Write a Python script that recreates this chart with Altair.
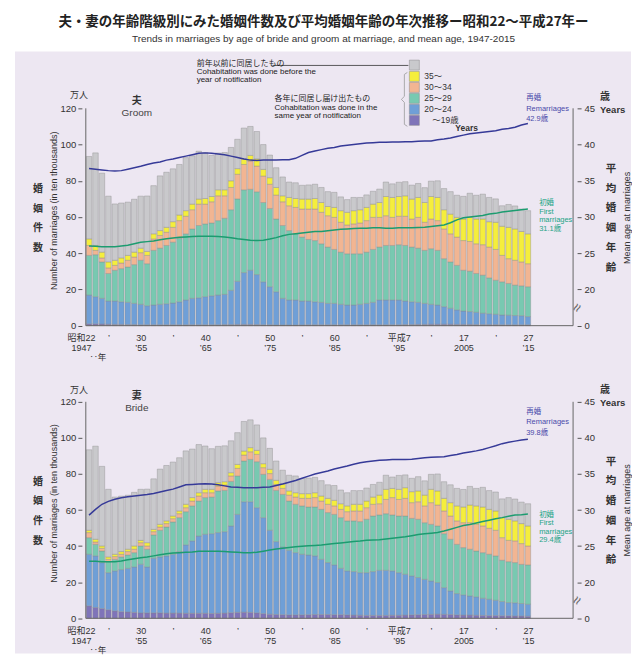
import altair as alt
import pandas as pd

FONT = "Liberation Sans, Noto Sans CJK JP, sans-serif"
JP = "Noto Sans CJK JP, sans-serif"

years = list(range(1947, 2016))

# total marriages (10 thousands) - same for groom and bride
marriages_total = [93.4, 95.4, 84.2, 71.5, 67.2, 67.7, 68.2, 69.8, 71.5, 71.6,
                   77.3, 82.7, 84.7, 86.6, 89.0, 92.8, 93.8, 96.3, 95.5, 94.0,
                   95.3, 95.6, 98.4, 102.9, 109.1, 110.0, 107.2, 100.0, 94.2, 87.2,
                   82.1, 79.3, 78.9, 77.5, 77.7, 78.1, 76.3, 74.0, 73.6, 71.1,
                   69.6, 70.8, 70.8, 72.2, 74.2, 75.4, 79.3, 78.3, 79.2, 79.5,
                   77.6, 78.5, 76.2, 79.8, 80.0, 75.7, 74.0, 72.0, 71.4, 73.1,
                   72.0, 72.6, 70.8, 70.0, 66.2, 66.9, 66.1, 64.4, 63.5]

# ---- Groom: upper edge of each cumulative band (same-year cohabitation) ----
groom_top_u19 = [1.0, 1.0, 0.9, 0.8, 0.7, 0.7, 0.6, 0.6, 0.5, 0.5,
                 0.5, 0.5, 0.5, 0.5, 0.5, 0.5, 0.5, 0.5, 0.5, 0.5,
                 0.5, 0.6, 0.6, 0.7, 0.7, 0.7, 0.6, 0.5, 0.5, 0.4,
                 0.4, 0.4, 0.4, 0.4, 0.5, 0.5, 0.5, 0.5, 0.5, 0.5,
                 0.5, 0.5, 0.5, 0.5, 0.5, 0.5, 0.5, 0.5, 0.5, 0.6,
                 0.6, 0.7, 0.7, 0.8, 0.8, 0.8, 0.8, 0.7, 0.7, 0.7,
                 0.6, 0.6, 0.6, 0.6, 0.5, 0.5, 0.5, 0.5, 0.5]
groom_top_20_24 = [16.9, 16.0, 15.1, 13.6, 13.6, 13.2, 12.9, 12.3, 11.8, 11.0,
                   11.4, 11.8, 12.1, 12.5, 13.2, 14.2, 15.1, 15.4, 16.0, 16.5,
                   16.9, 17.3, 19.5, 24.5, 29.3, 30.6, 28.2, 24.2, 21.5, 18.7,
                   15.1, 14.2, 14.2, 13.6, 13.6, 13.2, 12.9, 12.3, 12.3, 11.8,
                   11.4, 11.4, 11.8, 12.3, 12.9, 14.2, 14.2, 14.2, 14.2, 13.6,
                   13.2, 12.9, 12.3, 11.8, 11.4, 10.5, 9.6, 8.7, 8.1, 7.8,
                   7.4, 6.9, 6.6, 6.3, 5.9, 5.8, 5.6, 5.5, 5.0]
groom_top_25_29 = [38.8, 39.2, 35.2, 28.8, 30.6, 31.5, 32.4, 33.7, 36.1, 34.2,
                   41.6, 42.8, 44.3, 46.1, 48.3, 50.7, 53.4, 55.3, 56.2, 56.7,
                   58.0, 59.3, 64.0, 70.0, 75.0, 75.3, 73.9, 68.0, 64.7, 58.9,
                   55.3, 52.5, 50.7, 48.9, 47.6, 47.0, 45.2, 43.4, 42.1, 40.6,
                   39.7, 39.7, 39.7, 40.6, 42.1, 43.4, 44.3, 44.3, 44.7, 44.3,
                   43.4, 42.8, 41.6, 42.5, 41.6, 37.0, 35.2, 33.3, 30.6, 30.1,
                   28.8, 27.9, 26.4, 25.1, 24.2, 23.3, 22.4, 22.0, 21.5]
groom_top_30_34 = [44.3, 41.6, 37.4, 31.9, 33.3, 34.6, 36.1, 37.9, 40.3, 38.8,
                   47.9, 49.8, 51.6, 54.3, 58.0, 60.4, 64.0, 67.1, 67.1, 68.4,
                   71.7, 71.7, 76.3, 83.6, 89.0, 90.9, 88.1, 82.6, 78.1, 72.1,
                   68.4, 66.2, 65.3, 64.4, 64.4, 64.4, 62.6, 60.7, 59.8, 57.1,
                   55.6, 56.2, 56.7, 58.0, 59.8, 59.8, 60.7, 59.8, 60.4, 60.4,
                   58.9, 59.8, 57.1, 58.9, 58.0, 53.4, 50.7, 48.9, 47.0, 46.5,
                   45.2, 44.7, 43.4, 42.1, 38.8, 37.0, 36.1, 35.2, 34.2]
groom_top_35 = [47.9, 44.3, 40.6, 35.2, 36.1, 37.4, 38.8, 40.6, 42.8, 41.0,
                50.7, 52.5, 54.3, 57.4, 61.1, 63.5, 67.1, 69.9, 70.2, 71.3,
                75.0, 75.0, 80.0, 86.7, 92.1, 94.0, 92.1, 86.3, 81.7, 76.3,
                71.7, 70.8, 70.2, 69.9, 69.9, 70.2, 68.0, 65.8, 65.3, 63.5,
                62.6, 63.5, 64.0, 65.3, 67.1, 68.0, 71.3, 70.8, 71.3, 71.7,
                69.9, 70.8, 68.0, 71.3, 70.8, 64.0, 61.6, 59.8, 58.9, 59.8,
                58.9, 58.9, 57.4, 57.1, 54.9, 54.3, 53.4, 52.0, 50.7]
groom_age_first = [26.0, 25.95, 25.9, 25.9, 25.9, 26.0, 26.1, 26.3, 26.5, 26.6,
                   26.7, 26.85, 27.0, 27.1, 27.2, 27.25, 27.3, 27.35, 27.35, 27.35,
                   27.3, 27.25, 27.15, 27.0, 26.9, 26.8, 26.75, 26.8, 26.95, 27.15,
                   27.4, 27.6, 27.7, 27.8, 27.9, 28.0, 28.0, 28.1, 28.2, 28.3,
                   28.35, 28.4, 28.45, 28.45, 28.5, 28.5, 28.45, 28.45, 28.5, 28.5,
                   28.5, 28.55, 28.6, 28.7, 28.8, 28.9, 29.2, 29.6, 29.9, 30.0,
                   30.1, 30.2, 30.4, 30.5, 30.7, 30.8, 30.9, 31.0, 31.1]
groom_age_re = [36.7, 36.6, 36.5, 36.4, 36.35, 36.4, 36.6, 36.8, 37.0, 37.25,
                37.45, 37.6, 37.85, 38.0, 38.2, 38.4, 38.6, 38.8, 38.85, 38.8,
                38.7, 38.6, 38.4, 38.2, 38.0, 37.85, 37.8, 37.85, 37.85, 37.85,
                37.9, 37.9, 38.1, 38.5, 38.9, 39.1, 39.3, 39.5, 39.6, 39.8,
                39.9, 40.0, 40.1, 40.2, 40.25, 40.3, 40.3, 40.35, 40.35, 40.4,
                40.4, 40.45, 40.5, 40.5, 40.65, 40.75, 40.9, 41.1, 41.3, 41.5,
                41.6, 41.7, 41.8, 41.9, 42.1, 42.2, 42.4, 42.7, 42.9]

# ---- Bride ----
bride_top_u19 = [6.9, 6.0, 5.4, 4.7, 4.1, 3.7, 3.5, 3.3, 3.0, 3.0,
                 3.0, 3.0, 2.9, 2.9, 2.9, 2.8, 2.8, 2.8, 2.8, 2.7,
                 2.8, 2.9, 3.1, 3.3, 3.4, 3.3, 3.0, 2.6, 2.3, 2.1,
                 2.0, 1.9, 1.9, 1.9, 2.0, 2.1, 2.1, 2.1, 2.0, 2.0,
                 1.9, 1.8, 1.7, 1.6, 1.6, 1.6, 1.6, 1.7, 1.7, 1.8,
                 1.9, 2.0, 2.1, 2.2, 2.3, 2.2, 2.1, 1.9, 1.8, 1.8,
                 1.7, 1.6, 1.5, 1.5, 1.4, 1.4, 1.3, 1.3, 1.2]
bride_top_20_24 = [35.5, 34.6, 30.9, 25.3, 26.3, 27.0, 27.7, 28.5, 30.0, 28.5,
                   33.3, 34.0, 34.6, 35.5, 37.0, 40.7, 42.9, 45.6, 46.6, 46.9,
                   47.5, 48.0, 51.2, 57.6, 64.6, 64.6, 61.3, 55.8, 48.8, 42.5,
                   39.5, 37.7, 36.4, 35.5, 35.1, 34.6, 32.7, 30.9, 29.6, 27.7,
                   26.3, 25.9, 25.3, 25.3, 25.9, 26.6, 26.6, 26.3, 25.3, 24.4,
                   23.5, 22.6, 21.6, 20.7, 19.8, 17.0, 15.2, 13.7, 13.0, 12.4,
                   11.9, 11.1, 10.6, 10.0, 9.3, 8.7, 8.6, 8.2, 7.8]
bride_top_25_29 = [44.7, 41.0, 37.3, 31.4, 32.7, 34.0, 35.1, 36.4, 40.1, 38.3,
                   46.2, 48.8, 50.6, 53.4, 55.8, 59.1, 62.3, 65.0, 66.9, 67.2,
                   70.6, 70.9, 75.9, 78.9, 87.2, 88.1, 86.8, 79.8, 77.0, 70.9,
                   68.7, 65.0, 63.2, 62.3, 61.7, 61.7, 60.4, 58.6, 57.6, 55.8,
                   54.0, 54.0, 53.6, 54.9, 56.7, 57.3, 58.0, 57.3, 56.7, 56.7,
                   55.4, 54.9, 53.0, 52.1, 51.2, 46.9, 43.8, 41.0, 39.2, 38.3,
                   37.3, 36.4, 35.5, 34.6, 32.2, 31.4, 30.9, 29.9, 29.6]
bride_top_30_34 = [47.5, 42.3, 38.8, 32.7, 34.2, 35.5, 37.0, 38.3, 41.9, 40.1,
                   48.0, 50.6, 52.5, 55.2, 58.0, 61.3, 65.0, 67.8, 69.6, 69.6,
                   73.3, 73.9, 78.9, 83.1, 90.5, 92.3, 90.9, 83.5, 80.2, 74.2,
                   72.0, 68.3, 67.2, 66.5, 66.5, 66.9, 65.0, 63.2, 62.3, 60.4,
                   59.1, 59.5, 59.5, 61.3, 63.2, 63.5, 65.9, 66.9, 65.9, 66.5,
                   64.1, 64.6, 62.3, 64.1, 62.8, 59.5, 56.7, 54.0, 53.0, 53.0,
                   52.1, 51.2, 49.9, 48.8, 44.7, 43.2, 42.9, 41.4, 40.1]
bride_top_35 = [48.8, 43.8, 40.1, 34.0, 35.5, 37.0, 38.3, 40.1, 43.2, 41.9,
                49.3, 52.1, 54.0, 56.7, 59.5, 63.2, 66.9, 69.6, 71.5, 71.5,
                75.2, 75.7, 80.7, 85.3, 92.7, 94.6, 93.1, 85.7, 82.6, 76.5,
                74.6, 70.6, 69.6, 69.1, 69.1, 69.6, 67.8, 66.5, 65.4, 63.5,
                62.3, 63.2, 63.2, 65.0, 67.2, 68.3, 71.5, 72.0, 71.5, 72.4,
                70.2, 70.6, 68.3, 71.5, 70.6, 66.5, 64.1, 62.3, 61.7, 62.8,
                62.3, 61.7, 60.4, 59.5, 55.8, 54.9, 54.0, 52.5, 51.2]
bride_age_first = [22.9, 22.9, 22.85, 22.85, 22.85, 22.95, 23.1, 23.25, 23.4, 23.5,
                   23.65, 23.8, 23.95, 24.05, 24.1, 24.15, 24.2, 24.3, 24.3, 24.3,
                   24.3, 24.25, 24.2, 24.15, 24.1, 24.1, 24.15, 24.3, 24.45, 24.6,
                   24.7, 24.8, 24.9, 25.0, 25.05, 25.1, 25.15, 25.25, 25.35, 25.45,
                   25.55, 25.65, 25.7, 25.8, 25.85, 25.9, 26.0, 26.1, 26.2, 26.3,
                   26.45, 26.6, 26.7, 26.8, 26.9, 27.1, 27.35, 27.6, 27.85, 28.0,
                   28.2, 28.4, 28.6, 28.8, 28.95, 29.15, 29.3, 29.35, 29.45]
bride_age_re = [29.3, 30.1, 30.8, 31.2, 31.5, 31.7, 31.85, 31.95, 32.05, 32.15,
                32.3, 32.5, 32.7, 32.9, 33.2, 33.5, 33.55, 33.6, 33.65, 33.6,
                33.5, 33.35, 33.2, 33.15, 33.1, 33.1, 33.1, 33.15, 33.2, 33.4,
                33.6, 33.85, 34.1, 34.4, 34.7, 35.0, 35.2, 35.4, 35.7, 35.9,
                36.1, 36.35, 36.55, 36.7, 36.8, 36.9, 36.95, 37.0, 37.0, 37.0,
                37.05, 37.15, 37.25, 37.3, 37.35, 37.4, 37.55, 37.7, 37.9, 38.05,
                38.2, 38.4, 38.65, 38.9, 39.2, 39.4, 39.55, 39.7, 39.8]

# axis labels
tick_years = [1947, 1950, 1955, 1960, 1965, 1970, 1975, 1980, 1985, 1990, 1995, 2000, 2005, 2010, 2015]
era_labels = ["昭和22", "’", "30", "’", "40", "’", "50", "’", "60", "’", "平成7", "’", "17", "’", "27"]
western_labels = ["1947", "", "’55", "", "’65", "", "’75", "", "’85", "", "’95", "", "2005", "", "’15"]
left_ticks = [0, 20, 40, 60, 80, 100, 120]

segments = ["~19", "20~24", "25~29", "30~34", "35~", "before"]
seg_colors = ["#7f74b9", "#6f9fd7", "#78c9b1", "#f2b592", "#f5ee3c", "#c9c9cc"]
LAV = "#ede7f2"
NAVY = "#363a98"
GREEN = "#1c9c70"
LBL_RE = "#4a4aaa"
LBL_FI = "#22a486"

# x label expression
parts = []
for y, e, w in zip(tick_years, era_labels, western_labels):
    if w:
        parts.append(f"datum.value == {y} ? ['{e}', '{w}'] : ")
    else:
        parts.append(f"datum.value == {y} ? '{e}' : ")
x_label_expr = "".join(parts) + "''"

XDOM = [1936.3, 2030.2]
W = 617


def bars_df(edges):
    rows = []
    for i, yr in enumerate(years):
        lo = 0.0
        for seg, arr in zip(segments, edges):
            hi = arr[i]
            rows.append(dict(year=yr, seg=seg, lo=lo, hi=hi))
            lo = hi
    return pd.DataFrame(rows)


def ann(y0, px, py, text, size=8, color="#333", weight="normal", align="left",
        angle=0, lh=None, font=FONT, baseline="middle"):
    kw = dict(text=text, fontSize=size, color=color, fontWeight=weight,
              align=align, baseline=baseline, font=font)
    if angle:
        kw["angle"] = angle
    if lh:
        kw["lineHeight"] = lh
    return alt.Chart(pd.DataFrame({"a": [1]})).mark_text(**kw).encode(
        x=alt.value(px - 15), y=alt.value(py - y0))


def seg_rule(y0, x1, y1, x2, y2, color="#999", width=0.8):
    enc = dict(x=alt.value(x1 - 15), y=alt.value(y1 - y0))
    if x2 != x1:
        enc["x2"] = alt.value(x2 - 15)
    if y2 != y1:
        enc["y2"] = alt.value(y2 - y0)
    return alt.Chart(pd.DataFrame({"a": [1]})).mark_rule(color=color, strokeWidth=width).encode(**enc)


def panel(edges, first, re, ydom, height, y0, name_jp, name_en, re_lbl, fi_lbl,
          re_y, fi_y, header_y, legend=False):
    ppu = height / (ydom[1] - ydom[0])
    xs = alt.Scale(domain=XDOM, nice=False, zero=False)
    ys = alt.Scale(domain=ydom, nice=False, zero=False)
    xaxis = alt.Axis(values=tick_years, labelExpr=x_label_expr, ticks=False, domain=False,
                     grid=False, title=None, labelFontSize=9, labelFont=FONT,
                     labelColor="#333", labelPadding=8, labelBaseline="top",
                     labelLineHeight=10, labelFlush=False, labelOverlap=False,
                     offset=-(0 - ydom[0]) * ppu,
                     labelOffset={"condition": {"test": "datum.value == 1947", "value": -8}, "value": 0})
    left_axis = alt.Axis(orient="left", values=left_ticks, offset=-67, domain=False, grid=False,
                         title=None, tickSize=4, tickColor="#555", labelFontSize=9.5,
                         labelPadding=2, labelColor="#333", labelFont=FONT)
    right_axis = alt.Axis(orient="right", values=left_ticks, offset=-54, domain=False, grid=False,
                          title=None, tickSize=4, tickColor="#555", labelFontSize=9.5,
                          labelPadding=3, labelColor="#333", labelFont=FONT,
                          labelExpr="datum.value == 0 ? '0' : '' + (20 + (datum.value - 20) / 4)")

    bars = alt.Chart(bars_df(edges)).mark_bar(size=5.5, stroke="#8a8a8a", strokeWidth=0.4).encode(
        x=alt.X("year:Q", scale=xs, axis=xaxis),
        y=alt.Y("lo:Q", scale=ys, axis=left_axis),
        y2="hi:Q",
        color=alt.Color("seg:N", scale=alt.Scale(domain=segments, range=seg_colors), legend=None),
    )

    def line(ages, col):
        df = pd.DataFrame({"year": years, "age": ages})
        return alt.Chart(df).transform_calculate(v="20 + (datum.age - 20) * 4").mark_line(
            strokeWidth=1.5, color=col).encode(
            x=alt.X("year:Q", scale=xs, axis=xaxis),
            y=alt.Y("v:Q", scale=ys, axis=None))

    dummy = pd.DataFrame({"a": [1]})
    lax = alt.Chart(dummy).mark_rule(color="#666", strokeWidth=1).encode(
        x=alt.XDatum(1946.5, scale=xs, axis=xaxis), y=alt.YDatum(0, axis=None), y2=alt.Y2Datum(120))
    rax = alt.Chart(dummy).mark_rule(color="#666", strokeWidth=1).encode(
        x=alt.XDatum(2022, scale=xs, axis=xaxis), y=alt.YDatum(0, axis=right_axis), y2=alt.Y2Datum(120))
    base = alt.Chart(dummy).mark_rule(color="#666", strokeWidth=1).encode(
        x=alt.XDatum(1946.5, scale=xs, axis=xaxis), x2=alt.X2Datum(2022), y=alt.YDatum(0, axis=None))

    layers = [bars, line(re, NAVY), line(first, GREEN), lax, base, rax]

    y_zero = y0 + (ydom[1] - 0) * ppu
    a = []
    a.append(ann(y0, 79, header_y, "万人", size=9, align="center", font=JP))
    a.append(ann(y0, 137, header_y + 6, name_jp, size=10, weight="bold", align="center", font=JP))
    a.append(ann(y0, 137, header_y + 18, name_en, size=10, align="center", color="#444"))
    a.append(ann(y0, 38, y_zero - 137, ["婚", "姻", "件", "数"], size=10, weight="bold",
                 align="center", lh=19.8, font=JP))
    a.append(ann(y0, 54, y_zero - 115, "Number of marriages (in ten thousands)", size=9,
                 align="center", angle=270))
    a.append(ann(y0, 606, y_zero - 229, "歳", size=10, weight="bold", align="center", font=JP))
    a.append(ann(y0, 601, y_zero - 216, "Years", size=9.5, weight="bold", align="left"))
    a.append(ann(y0, 612, y_zero - 157, ["平", "均", "婚", "姻", "年", "齢"], size=10.5,
                 weight="bold", align="center", lh=19.8, font=JP))
    a.append(ann(y0, 628, y_zero - 108, "Mean age at marriages", size=9, align="center", angle=270))
    a.append(ann(y0, 578, y_zero - 18, "≈", size=15, color="#666", align="center", angle=300))
    a.append(ann(y0, 98, y_zero + 31.5, "‥年", size=8.5, align="center", font=JP))
    for k, t in enumerate(["再婚", "Remarriages", re_lbl]):
        a.append(ann(y0, 527, re_y + k * 10.5, t, size=7.5, color=LBL_RE, font=FONT))
    for k, t in enumerate(["初婚", "First", "marriages", fi_lbl]):
        a.append(ann(y0, 540, fi_y + k * 8.5, t, size=7.5, color=LBL_FI, font=FONT))

    if legend:
        box_y = [61.7, 73, 84, 95, 106, 117]
        box_c = ["#c9c9cc", "#f5ee3c", "#f2b592", "#78c9b1", "#6f9fd7", "#7f74b9"]
        for by, bc in zip(box_y, box_c):
            a.append(alt.Chart(dummy).mark_rect(fill=bc, stroke="#888", strokeWidth=0.5).encode(
                x=alt.value(410 - 15), x2=alt.value(420 - 15),
                y=alt.value(by - y0), y2=alt.value(by + 10 - y0)))
        for t, ly in zip(["35～", "30～34", "25～29", "20～24"], [78, 89, 100, 111]):
            a.append(ann(y0, 425, ly, t, size=8.5, font=FONT))
        a.append(ann(y0, 433, 121.5, "～19歳", size=8.5, font=FONT))
        a.append(ann(y0, 456, 129.5, "Years", size=8.5, weight="bold", font=FONT))
        a.append(seg_rule(y0, 273, 67, 409, 67, color="#333", width=0.8))
        # thin bracket grouping the same-year bands
        a.append(seg_rule(y0, 405, 76, 405, 98))
        a.append(seg_rule(y0, 405, 104, 405, 126))
        a.append(seg_rule(y0, 405, 76, 408, 74))
        a.append(seg_rule(y0, 405, 126, 408, 128))
        a.append(seg_rule(y0, 405, 98, 402, 101))
        a.append(seg_rule(y0, 405, 104, 402, 101))
        for k, t in enumerate(["前年以前に同居したもの", "Cohabitation was done before the",
                               "year of notification"]):
            a.append(ann(y0, 197, 66 + k * 8, t, size=8, color="#222", font=FONT))
        for k, t in enumerate(["各年に同居し届け出たもの", "Cohabitation was done in the",
                               "same year of notification"]):
            a.append(ann(y0, 275, 101 + k * 8.5, t, size=8, color="#222", font=FONT))

    return alt.layer(*layers, *a).resolve_axis(y="independent").properties(width=W, height=height)


top = panel([groom_top_u19, groom_top_20_24, groom_top_25_29, groom_top_30_34, groom_top_35, marriages_total],
            groom_age_first, groom_age_re, [-26.1, 151.4], 322, 53, "夫", "Groom", "42.9歳", "31.1歳",
            re_y=100, fi_y=205, header_y=97, legend=True)
bottom = panel([bride_top_u19, bride_top_20_24, bride_top_25_29, bride_top_30_34, bride_top_35, marriages_total],
               bride_age_first, bride_age_re, [-19.5, 136.0], 281, 375, "妻", "Bride", "39.8歳", "29.4歳",
               re_y=414, fi_y=517, header_y=392)

chart = alt.vconcat(top, bottom, spacing=0).properties(
    title=alt.TitleParams(
        text="夫・妻の年齢階級別にみた婚姻件数及び平均婚姻年齢の年次推移ー昭和22～平成27年ー",
        subtitle="Trends in marriages by age of bride and groom at marriage, and mean age, 1947-2015",
        anchor="middle", fontSize=13.5, fontWeight="bold", font=JP, color="#222",
        subtitleFontSize=10, subtitleFont=FONT, subtitleColor="#333", subtitlePadding=6, offset=7),
    padding={"left": 7, "top": 6, "right": 0, "bottom": 0},
    background="white",
).configure_view(fill=LAV, stroke=None)

chart.save("out.html", embed_options={"renderer": "svg", "actions": False})
